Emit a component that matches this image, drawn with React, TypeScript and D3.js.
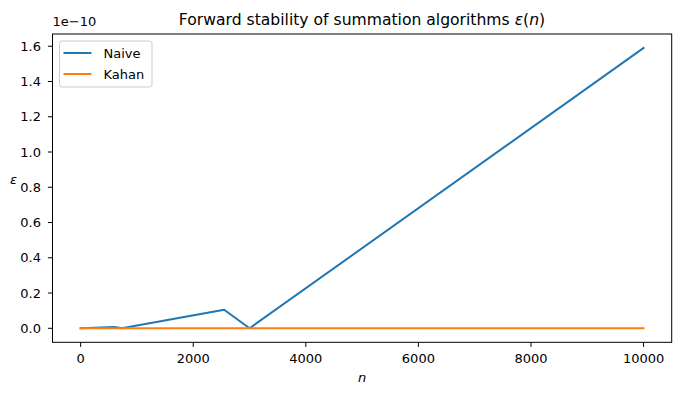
import React from 'react';
import * as d3 from 'd3';

// sample sizes and relative forward error
const nValues = [0, 600, 730, 2550, 3000, 10000];
const naiveErr = [0, 0.008e-10, 0, 0.105e-10, 0, 1.59e-10];
const kahanErr = [0, 0, 0, 0, 0, 0];

const xTicks = [0, 2000, 4000, 6000, 8000, 10000];
const yTicks = [0, 0.2e-10, 0.4e-10, 0.6e-10, 0.8e-10, 1.0e-10, 1.2e-10, 1.4e-10, 1.6e-10];

const seriesNames = ['Naive', 'Kahan'];
const colors = ['#1f77b4', '#ff7f0e'];

const W = 681;
const H = 395;
const margin = { top: 34, bottom: 52.7, left: 52.5, right: 9.3 };

export default function App() {
  const innerW = W - margin.left - margin.right;
  const innerH = H - margin.top - margin.bottom;

  const x = d3.scaleLinear().domain([-500, 10500]).range([0, innerW]);
  const yMax = d3.max(naiveErr) as number;
  const pad = yMax * 0.05;
  const y = d3.scaleLinear().domain([-pad, yMax + pad]).range([innerH, 0]);

  const line = d3.line<[number, number]>()
    .x(d => x(d[0]))
    .y(d => y(d[1]));

  const series = [naiveErr, kahanErr].map(vals => nValues.map((n, i) => [n, vals[i]] as [number, number]));

  const font = 'DejaVu Sans, sans-serif';

  return (
    <svg width={W} height={H} style={{ position: 'absolute', left: 0, top: 0, background: '#fff' }} fontFamily={font}>
      <text x={362} y={25} textAnchor="middle" fontSize={15.6}>
        Forward stability of summation algorithms <tspan fontStyle="italic">ε</tspan>(<tspan fontStyle="italic">n</tspan>)
      </text>
      <g transform={`translate(${margin.left},${margin.top})`}>
        {series.map((s, i) => (
          <path key={i} d={line(s) || ''} fill="none" stroke={colors[i]} strokeWidth={2} strokeLinejoin="round" strokeLinecap="square" />
        ))}
        <rect x={0} y={0} width={innerW} height={innerH} fill="none" stroke="#000" strokeWidth={1} />
        {xTicks.map(t => (
          <g key={t} transform={`translate(${x(t)},${innerH})`}>
            <line y2={4.6} stroke="#000" strokeWidth={1} />
            <text y={21} textAnchor="middle" fontSize={13}>{t}</text>
          </g>
        ))}
        {yTicks.map(t => (
          <g key={t} transform={`translate(0,${y(t)})`}>
            <line x2={-4.6} stroke="#000" strokeWidth={1} />
            <text x={-11.5} dy="0.35em" textAnchor="end" fontSize={13}>{(t / 1e-10).toFixed(1)}</text>
          </g>
        ))}
        <text x={0} y={-8} fontSize={13}>1e−10</text>
        <text x={innerW / 2} y={innerH + 40} textAnchor="middle" fontSize={13} fontStyle="italic">n</text>
        <text x={-39} y={innerH / 2 - 4} textAnchor="middle" fontSize={13} fontStyle="italic">ε</text>
        <g transform="translate(7,7)">
          <rect x={0} y={0} width={92.5} height={46} rx={2.5} fill="#fff" fillOpacity={0.8} stroke="#ccc" strokeWidth={1} />
          {seriesNames.map((name, i) => (
            <g key={name} transform={`translate(0,${12 + i * 21})`}>
              <line x1={4} x2={32} stroke={colors[i]} strokeWidth={2} />
              <text x={44} dy="0.35em" fontSize={13}>{name}</text>
            </g>
          ))}
        </g>
      </g>
    </svg>
  );
}
